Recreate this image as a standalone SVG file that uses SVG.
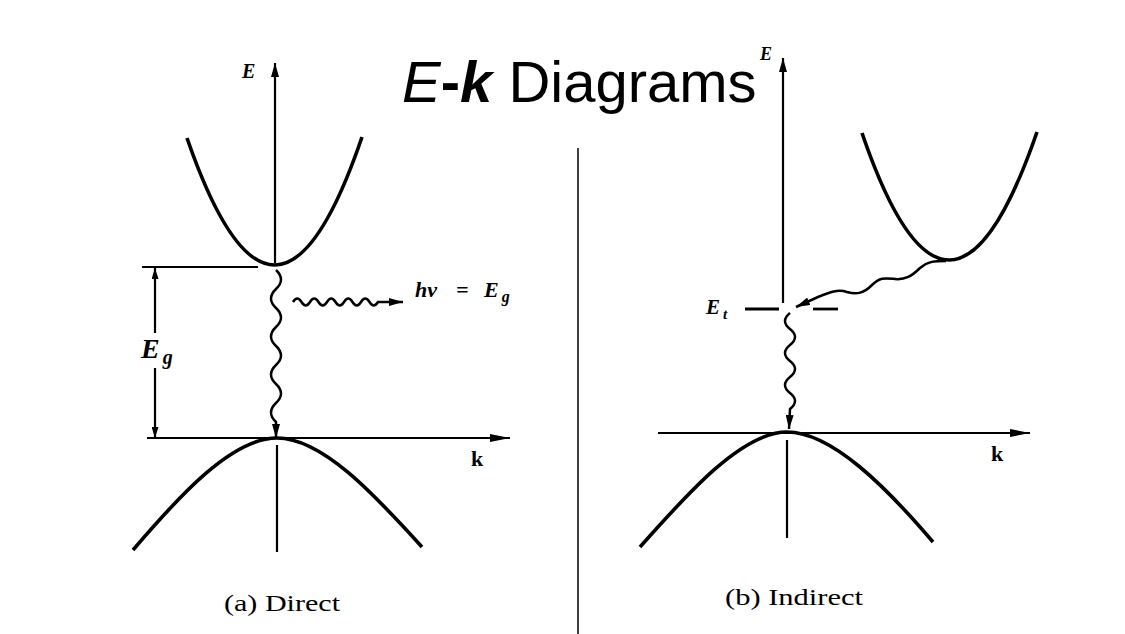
<svg xmlns="http://www.w3.org/2000/svg" width="1125" height="634" viewBox="0 0 1125 634">
<style>
.bg{fill:#fff}
.band{fill:none;stroke:#000;stroke-width:3.6;stroke-linecap:butt}
.axis{fill:none;stroke:#000;stroke-width:2.2}
.wave{fill:none;stroke:#000;stroke-width:2.5}
.lvl{fill:none;stroke:#000;stroke-width:2.8}
.math{font-family:"Liberation Serif","DejaVu Serif",serif;font-weight:bold;font-style:italic;fill:#000}
.kl{font-family:"Liberation Serif","DejaVu Serif",serif;font-weight:bold;fill:#000}
.cap{font-family:"Liberation Serif","DejaVu Serif",serif;fill:#000}
.title{font-family:"Liberation Sans",Arial,sans-serif;fill:#000}
</style>
<defs>
<marker id="ah" markerUnits="userSpaceOnUse" viewBox="0 0 14 8" markerWidth="14" markerHeight="8" refX="14" refY="4" orient="auto">
<path d="M0,0 L14,4 L0,8 z" fill="#000"/>
</marker>
<marker id="ahs" markerUnits="userSpaceOnUse" viewBox="0 0 11 7" markerWidth="11" markerHeight="7" refX="11" refY="3.5" orient="auto">
<path d="M0,0 L11,3.5 L0,7 z" fill="#000"/>
</marker>
<marker id="ahk" markerUnits="userSpaceOnUse" viewBox="0 0 20 8" markerWidth="20" markerHeight="8" refX="20" refY="4" orient="auto">
<path d="M0,0 L20,4 L0,8 z" fill="#000"/>
</marker>
</defs>
<rect class="bg" x="0" y="0" width="1125" height="634"/>

<g id="title">
<text class="title" x="402" y="102" font-size="58"><tspan font-style="italic">E</tspan><tspan font-weight="bold">-</tspan><tspan font-weight="bold" font-style="italic">k</tspan> Diagrams</text>
</g>

<g id="divider">
<line x1="578" y1="148" x2="578" y2="634" stroke="#000" stroke-width="1.5"/>
</g>

<g id="connectors">
<line class="axis" x1="275" y1="263" x2="275" y2="63" marker-end="url(#ah)"/>
<line class="axis" x1="277" y1="445" x2="277" y2="552"/>
<line class="axis" x1="147" y1="438" x2="510" y2="438" marker-end="url(#ahk)"/>
<line class="axis" x1="142" y1="267" x2="258" y2="267"/>
<line class="axis" x1="155" y1="333" x2="155" y2="268" marker-end="url(#ahs)"/>
<line class="axis" x1="155" y1="368" x2="155" y2="438" marker-end="url(#ahs)"/>
<path class="wave" d="M276,270 q10,9.5 0,19 t0,19 t0,19 t0,19 t0,19 t0,19 t0,19 t0,19 L276,438" marker-end="url(#ah)"/>
<path class="wave" d="M293,302 q4.25,-7 8.5,0 t8.5,0 t8.5,0 t8.5,0 t8.5,0 t8.5,0 t8.5,0 t8.5,0 t8.5,0 t8.5,0 L403,302" stroke-width="2.2" marker-end="url(#ah)"/>

<line class="axis" x1="783" y1="303" x2="783" y2="58" marker-end="url(#ah)"/>
<line class="axis" x1="787" y1="440" x2="787" y2="538"/>
<line class="axis" x1="658" y1="433" x2="1030" y2="433" marker-end="url(#ahk)"/>
<line class="lvl" x1="745" y1="309" x2="779" y2="309"/>
<line class="lvl" x1="813" y1="309" x2="838" y2="309"/>
<path class="wave" d="M946,261 C935,261 928,261 920,268 C912,276 905,280 895,279 C885,278 880,277 872,285 C864,293 857,295 847,292 C838,289 830,292 818,297 L796,307" marker-end="url(#ah)"/>
<path class="wave" d="M790,313 q-10,8 0,16 t0,16 t0,16 t0,16 t0,16 t0,16 L789,429" marker-end="url(#ah)"/>
</g>

<g id="bands-direct">
<path class="band" d="M187,138 Q275,392.5 362,137"/>
<path class="band" d="M133,550 C180,495 232,438 277,438 C322,438 374,494 422,547"/>
</g>

<g id="bands-indirect">
<path class="band" d="M862,133 Q949,387.5 1037,132"/>
<path class="band" d="M640,547 C687,494 742,432 787,432 C832,432 887,488 933,542"/>
</g>

<g id="labels">
<text class="math" x="242" y="78" font-size="20">E</text>
<text class="math" x="760" y="60" font-size="18">E</text>
<text class="math" x="141" y="358" font-size="28">E<tspan font-size="20" dx="3" dy="6">g</tspan></text>
<text class="math" x="415" y="297" font-size="22">hν</text>
<text class="math" x="456" y="297" font-size="22">=</text>
<text class="math" x="484" y="297" font-size="22">E<tspan font-size="16" dx="3" dy="5">g</tspan></text>
<text class="math" x="706" y="314" font-size="21">E<tspan font-size="15" dx="3" dy="5">t</tspan></text>
<text class="kl" x="471" y="466" font-size="22">k</text>
<text class="kl" x="991" y="461" font-size="22">k</text>
<text class="cap" x="224" y="611" font-size="23" textLength="116" lengthAdjust="spacingAndGlyphs">(a)  Direct</text>
<text class="cap" x="725" y="605" font-size="23" textLength="138" lengthAdjust="spacingAndGlyphs">(b)  Indirect</text>
</g>
</svg>
